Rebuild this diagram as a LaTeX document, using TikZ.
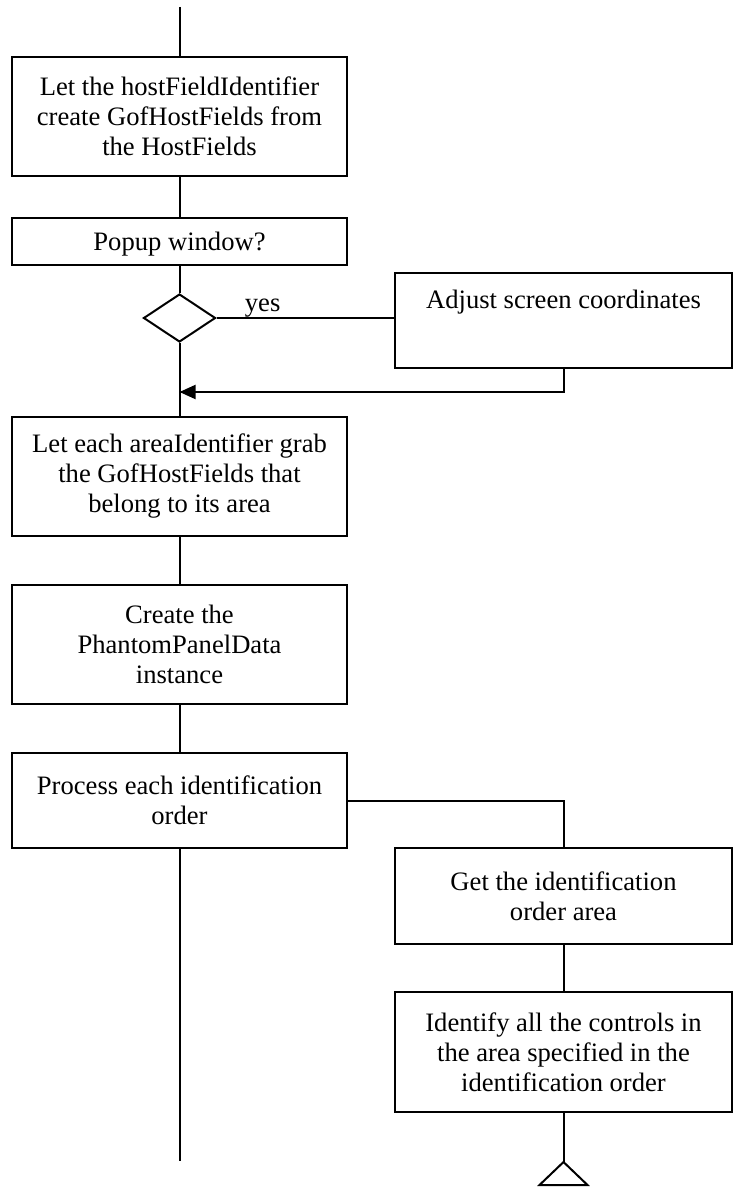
\documentclass[tikz,border=0pt]{standalone}
\usepackage{fontspec}
\setmainfont{Liberation Serif}
\usetikzlibrary{arrows.meta,shapes.geometric}

\begin{document}
\begin{tikzpicture}[x=0.5pt,y=-0.5pt,>={Triangle[length=8pt,width=7pt]},line width=1pt,
  every node/.style={font=\fontsize{13.3}{15}\selectfont},
  proc/.style={draw,align=center,minimum width=167.5pt,inner sep=0pt},
  sideproc/.style={proc,minimum width=168.5pt},
  choice/.style={draw,diamond,minimum width=36pt,minimum height=24pt,inner sep=0pt}]
  \useasboundingbox (0,0) rectangle (733,1187);
  % main column
  \coordinate (top) at (179.5,7);
  \node[proc,minimum height=59.5pt] (host) at (179.5,116.5) {Let the hostFieldIdentifier\\create GofHostFields from\\the HostFields};
  \node[proc,minimum height=23.5pt,text depth=0pt] (popup) at (179.5,241.5) {Popup window?};
  \node[choice] (ask) at (179.5,318) {};
  \node[sideproc,minimum height=47.5pt,label={[anchor=north,inner sep=0pt,yshift=-8.5pt]north:Adjust screen coordinates}] (adjust) at (563.5,320.5) {};
  \coordinate (merge) at (179.5,392);
  \node[proc,minimum height=59.5pt] (grab) at (179.5,476.5) {Let each areaIdentifier grab\\the GofHostFields that\\belong to its area};
  \node[proc,minimum height=59.5pt] (phantom) at (179.5,644.5) {Create the\\PhantomPanelData\\instance};
  \node[proc,minimum height=47.5pt] (orders) at (179.5,800.5) {Process each identification\\order};
  \coordinate (leftend) at (179.5,1161);
  % branch
  \node[sideproc,minimum height=48pt] (getarea) at (563.5,896) {Get the identification\\order area};
  \node[sideproc,minimum height=60pt] (identify) at (563.5,1052) {Identify all the controls in\\the area specified in the\\identification order};
  \coordinate (endmark) at (563.5,1162);

  \draw (top) -- (host);
  \draw (host) -- (popup);
  \draw (popup) -- (ask);
  \draw (ask.east) -- node[pos=0.26,above,inner sep=0pt] {yes} (ask.east -| adjust.west);
  \draw[->] (adjust.south) |- (merge);
  \draw (ask) -- (grab);
  \draw (grab) -- (phantom);
  \draw (phantom) -- (orders);
  \draw (orders) -- (leftend);
  \draw (orders.east) -| (getarea.north);
  \draw (getarea) -- (identify);
  \draw (identify) -- (endmark);
  \draw (endmark) -- ++(-24,23) -- ++(48,0) -- cycle;
\end{tikzpicture}
\end{document}
